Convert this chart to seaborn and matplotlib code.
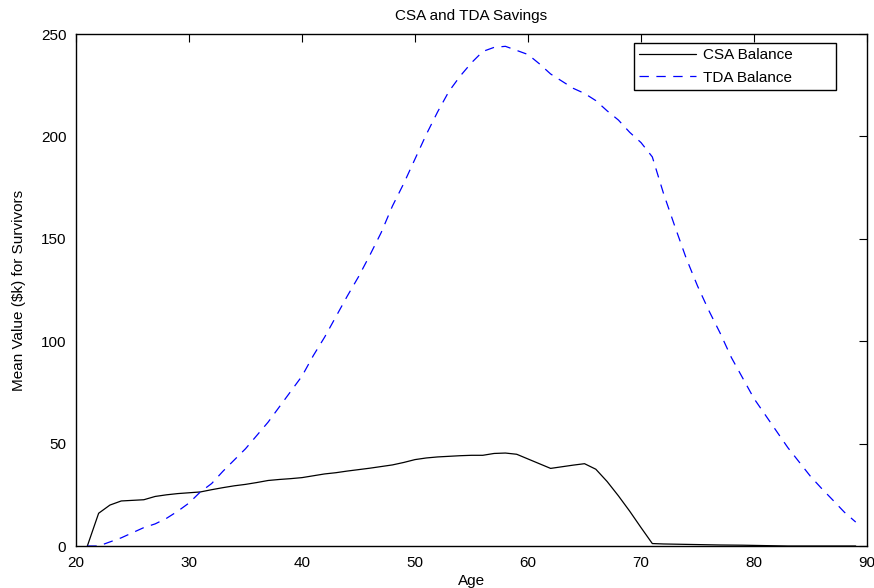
import numpy as np
import pandas as pd
import seaborn as sns
import matplotlib
matplotlib.use("Agg")
import matplotlib.pyplot as plt

# ages and mean balances ($k) for survivors
ages = list(range(21, 90))

csa_balance = [
    0, 16, 20, 22, 22.3, 22.6, 24.2, 25, 25.6, 26,
    26.4, 27.5, 28.5, 29.4, 30.1, 31, 32, 32.5, 32.9, 33.4,
    34.3, 35.2, 35.8, 36.6, 37.3, 38, 38.8, 39.6, 40.8, 42.2,
    43, 43.5, 43.8, 44.1, 44.3, 44.3, 45.2, 45.4, 44.8, 42.5,
    40.2, 37.9, 38.7, 39.5, 40.2, 37.5, 31.5, 24.5, 17, 9,
    1.2, 1.0, 0.9, 0.8, 0.7, 0.6, 0.5, 0.45, 0.4, 0.3,
    0.2, 0.1, 0, 0, 0, 0, 0, 0, 0,
]

tda_balance = [
    0, 0, 2, 4, 6.5, 9, 10.8, 13.5, 17, 21,
    26.4, 30.5, 36.5, 42, 47.5, 54, 60.5, 68, 75.5, 83,
    93, 102, 112, 122, 131.5, 142, 153, 166, 177, 189,
    201, 212, 222, 229.5, 236, 241.5, 243.5, 244, 242, 240,
    235.5, 230.5, 227, 223.5, 221, 217.5, 212.5, 208, 202, 197,
    190, 172, 156, 140.5, 127, 115, 104, 92, 82, 72,
    64, 56, 48, 41, 34, 28, 22.3, 16.5, 11.7,
]

series_labels = ["CSA Balance", "TDA Balance"]
x_ticks = [20, 30, 40, 50, 60, 70, 80, 90]
y_ticks = [0, 50, 100, 150, 200, 250]

sns.set_style("white")
plt.rcParams["font.family"] = ["Liberation Sans", "DejaVu Sans"]
plt.rcParams["font.size"] = 11
plt.rcParams["text.color"] = "black"
plt.rcParams["axes.labelcolor"] = "black"

df = pd.DataFrame({"Age": ages, "CSA": csa_balance, "TDA": tda_balance})

fig = plt.figure(figsize=(8.74, 5.88), dpi=100)
ax = fig.add_axes([0.087, 0.0714, 0.905, 0.8707])

sns.lineplot(data=df, x="Age", y="CSA", ax=ax, color="black", linewidth=0.9,
             label=series_labels[0])
sns.lineplot(data=df, x="Age", y="TDA", ax=ax, color="blue", linewidth=0.9,
             linestyle=(0, (7.5, 6)), label=series_labels[1])

ax.set_xlim(20, 90)
ax.set_ylim(0, 250)
ax.set_xticks(x_ticks)
ax.set_yticks(y_ticks)
ax.tick_params(direction="in", top=True, right=True, length=6, width=0.8,
               labelsize=11, colors="black", pad=7)
for sp in ax.spines.values():
    sp.set_color("black")
    sp.set_linewidth(1.0)

ax.set_title("CSA and TDA Savings", fontsize=11, pad=10)
ax.set_xlabel("Age", fontsize=11, labelpad=3)
ax.set_ylabel("Mean Value ($k) for Survivors", fontsize=11, labelpad=11)

# matlab-like legend box: wide frame, text left aligned
leg = ax.legend(loc="upper left", bbox_to_anchor=(0.7054, 0.0, 0.2554, 0.9824),
                mode="expand", borderaxespad=0, fancybox=False, framealpha=1,
                edgecolor="black", handlelength=3.7, borderpad=0.35,
                labelspacing=0.55, handletextpad=0.45, fontsize=11)
leg.get_frame().set_linewidth(1.0)

fig.savefig("out.png", dpi=100)
